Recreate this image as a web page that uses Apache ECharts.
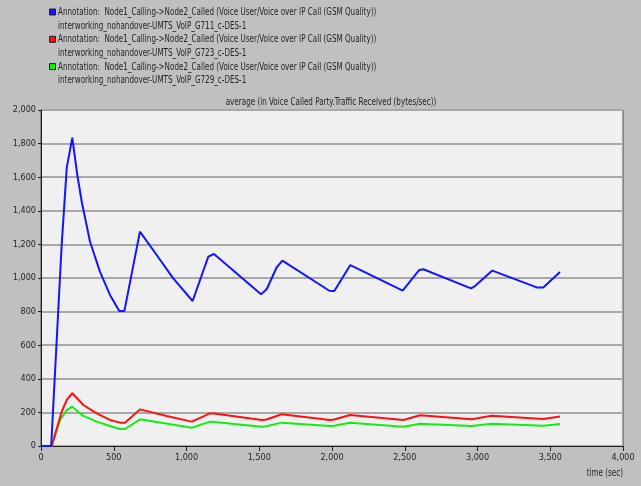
<!DOCTYPE html>
<html><head><meta charset="utf-8">
<script src="https://cdn.jsdelivr.net/npm/echarts@6/dist/echarts.min.js"></script>
<style>html,body{margin:0;padding:0;background:#c0c0c0;}#c{width:641px;height:486px;}</style>
</head><body><div id="c"></div>
<script>
var seriesNames = [
  "Annotation:  Node1_Calling->Node2_Called (Voice User/Voice over IP Call (GSM Quality))\ninterworking_nohandover-UMTS_VoIP_G711_c-DES-1",
  "Annotation:  Node1_Calling->Node2_Called (Voice User/Voice over IP Call (GSM Quality))\ninterworking_nohandover-UMTS_VoIP_G723_c-DES-1",
  "Annotation:  Node1_Calling->Node2_Called (Voice User/Voice over IP Call (GSM Quality))\ninterworking_nohandover-UMTS_VoIP_G729_c-DES-1"
];
var chartTitle = "average (in Voice Called Party.Traffic Received (bytes/sec))";
var xAxisName = "time (sec)";

var g711Time  = [0, 70, 142, 177, 215, 250, 280, 337, 405, 474, 538, 573, 680, 795, 909, 1042, 1150, 1189, 1512, 1551, 1620, 1659, 1982, 2016, 2126, 2486, 2600, 2628, 2955, 2983, 3102, 3407, 3452, 3567];
var g711Value = [0, 0, 1196, 1657, 1835, 1610, 1454, 1216, 1038, 899, 803, 803, 1276, 1137, 998, 863, 1127, 1143, 903, 933, 1064, 1103, 924, 923, 1077, 925, 1048, 1052, 938, 952, 1044, 944, 944, 1036];

var g723Time  = [0, 73, 142, 177, 215, 291, 383, 474, 543, 577, 680, 864, 1036, 1162, 1190, 1517, 1550, 1654, 1986, 2015, 2124, 2490, 2605, 2960, 3098, 3452, 3567];
var g723Value = [0, 0, 204, 274, 314, 244, 194, 155, 139, 139, 218, 179, 145, 194, 194, 155, 158, 189, 155, 158, 185, 155, 183, 159, 180, 161, 175];

var g729Time  = [0, 75, 131, 177, 215, 291, 383, 474, 543, 577, 680, 1036, 1162, 1190, 1517, 1550, 1654, 1986, 2015, 2124, 2490, 2605, 2960, 3098, 3452, 3567];
var g729Value = [0, 0, 155, 214, 234, 179, 145, 119, 101, 101, 159, 109, 145, 143, 115, 117, 139, 119, 121, 139, 115, 133, 119, 133, 121, 131];

var colors = ["#1414ff", "#ff1010", "#10f010"];
var FONT = "'Liberation Sans Narrow','Arial Narrow','DejaVu Sans Condensed',sans-serif";
var SQ = 0.8;

function pairs(t, v) { return t.map(function (x, i) { return [x, v[i]]; }); }
function commas(v) { return String(v).replace(/\B(?=(\d{3})+(?!\d))/g, ","); }

var chart = echarts.init(document.getElementById('c'), null, {renderer: 'canvas'});

function txt(x, y, s, align) {
  return {type: 'text', x: x, y: y, scaleX: SQ,
    style: {text: s, font: '10px ' + FONT, fill: '#242424', textAlign: align || 'left', textVerticalAlign: 'middle'}};
}

var legendGraphics = [];
seriesNames.forEach(function (name, i) {
  var y0 = 12.5 + i * 27.3;
  var lines = name.split("\n");
  legendGraphics.push({
    type: 'rect', shape: {x: 49.5, y: y0 - 3.5, width: 6, height: 6},
    style: {fill: colors[i], stroke: '#202020', lineWidth: 1}
  });
  legendGraphics.push(txt(58, y0, lines[0]));
  legendGraphics.push(txt(58, y0 + 13.5, lines[1]));
});
legendGraphics.push(txt(331, 102, chartTitle, 'center'));
legendGraphics.push(txt(623, 473, xAxisName, 'right'));

chart.setOption({
  backgroundColor: '#c0c0c0',
  animation: false,
  grid: {left: 41, right: 18, top: 110, bottom: 40, show: true, backgroundColor: '#f0f0f0', borderColor: '#505050', borderWidth: 1},
  xAxis: {
    type: 'value', min: 0, max: 4000, interval: 500,
    axisLine: {show: true, onZero: false, lineStyle: {color: '#202020', width: 1}},
    axisTick: {show: true, length: 5, lineStyle: {color: '#202020'}},
    axisLabel: {color: '#242424', fontFamily: FONT, fontSize: 9, margin: 7, formatter: commas},
    splitLine: {show: false}
  },
  yAxis: {
    type: 'value', min: 0, max: 2000, interval: 200,
    axisLine: {show: true, lineStyle: {color: '#202020', width: 1}},
    axisTick: {show: true, length: 3, lineStyle: {color: '#202020'}},
    axisLabel: {color: '#242424', fontFamily: FONT, fontSize: 9, margin: 5, formatter: commas},
    splitLine: {show: true, lineStyle: {color: '#a8a8a8', width: 2}}
  },
  graphic: legendGraphics,
  series: [
    {name: 'G711', type: 'line', data: pairs(g711Time, g711Value), showSymbol: false, lineStyle: {color: colors[0], width: 2}, z: 4},
    {name: 'G723', type: 'line', data: pairs(g723Time, g723Value), showSymbol: false, lineStyle: {color: colors[1], width: 2}, z: 3},
    {name: 'G729', type: 'line', data: pairs(g729Time, g729Value), showSymbol: false, lineStyle: {color: colors[2], width: 2}, z: 2}
  ]
});
</script></body></html>
